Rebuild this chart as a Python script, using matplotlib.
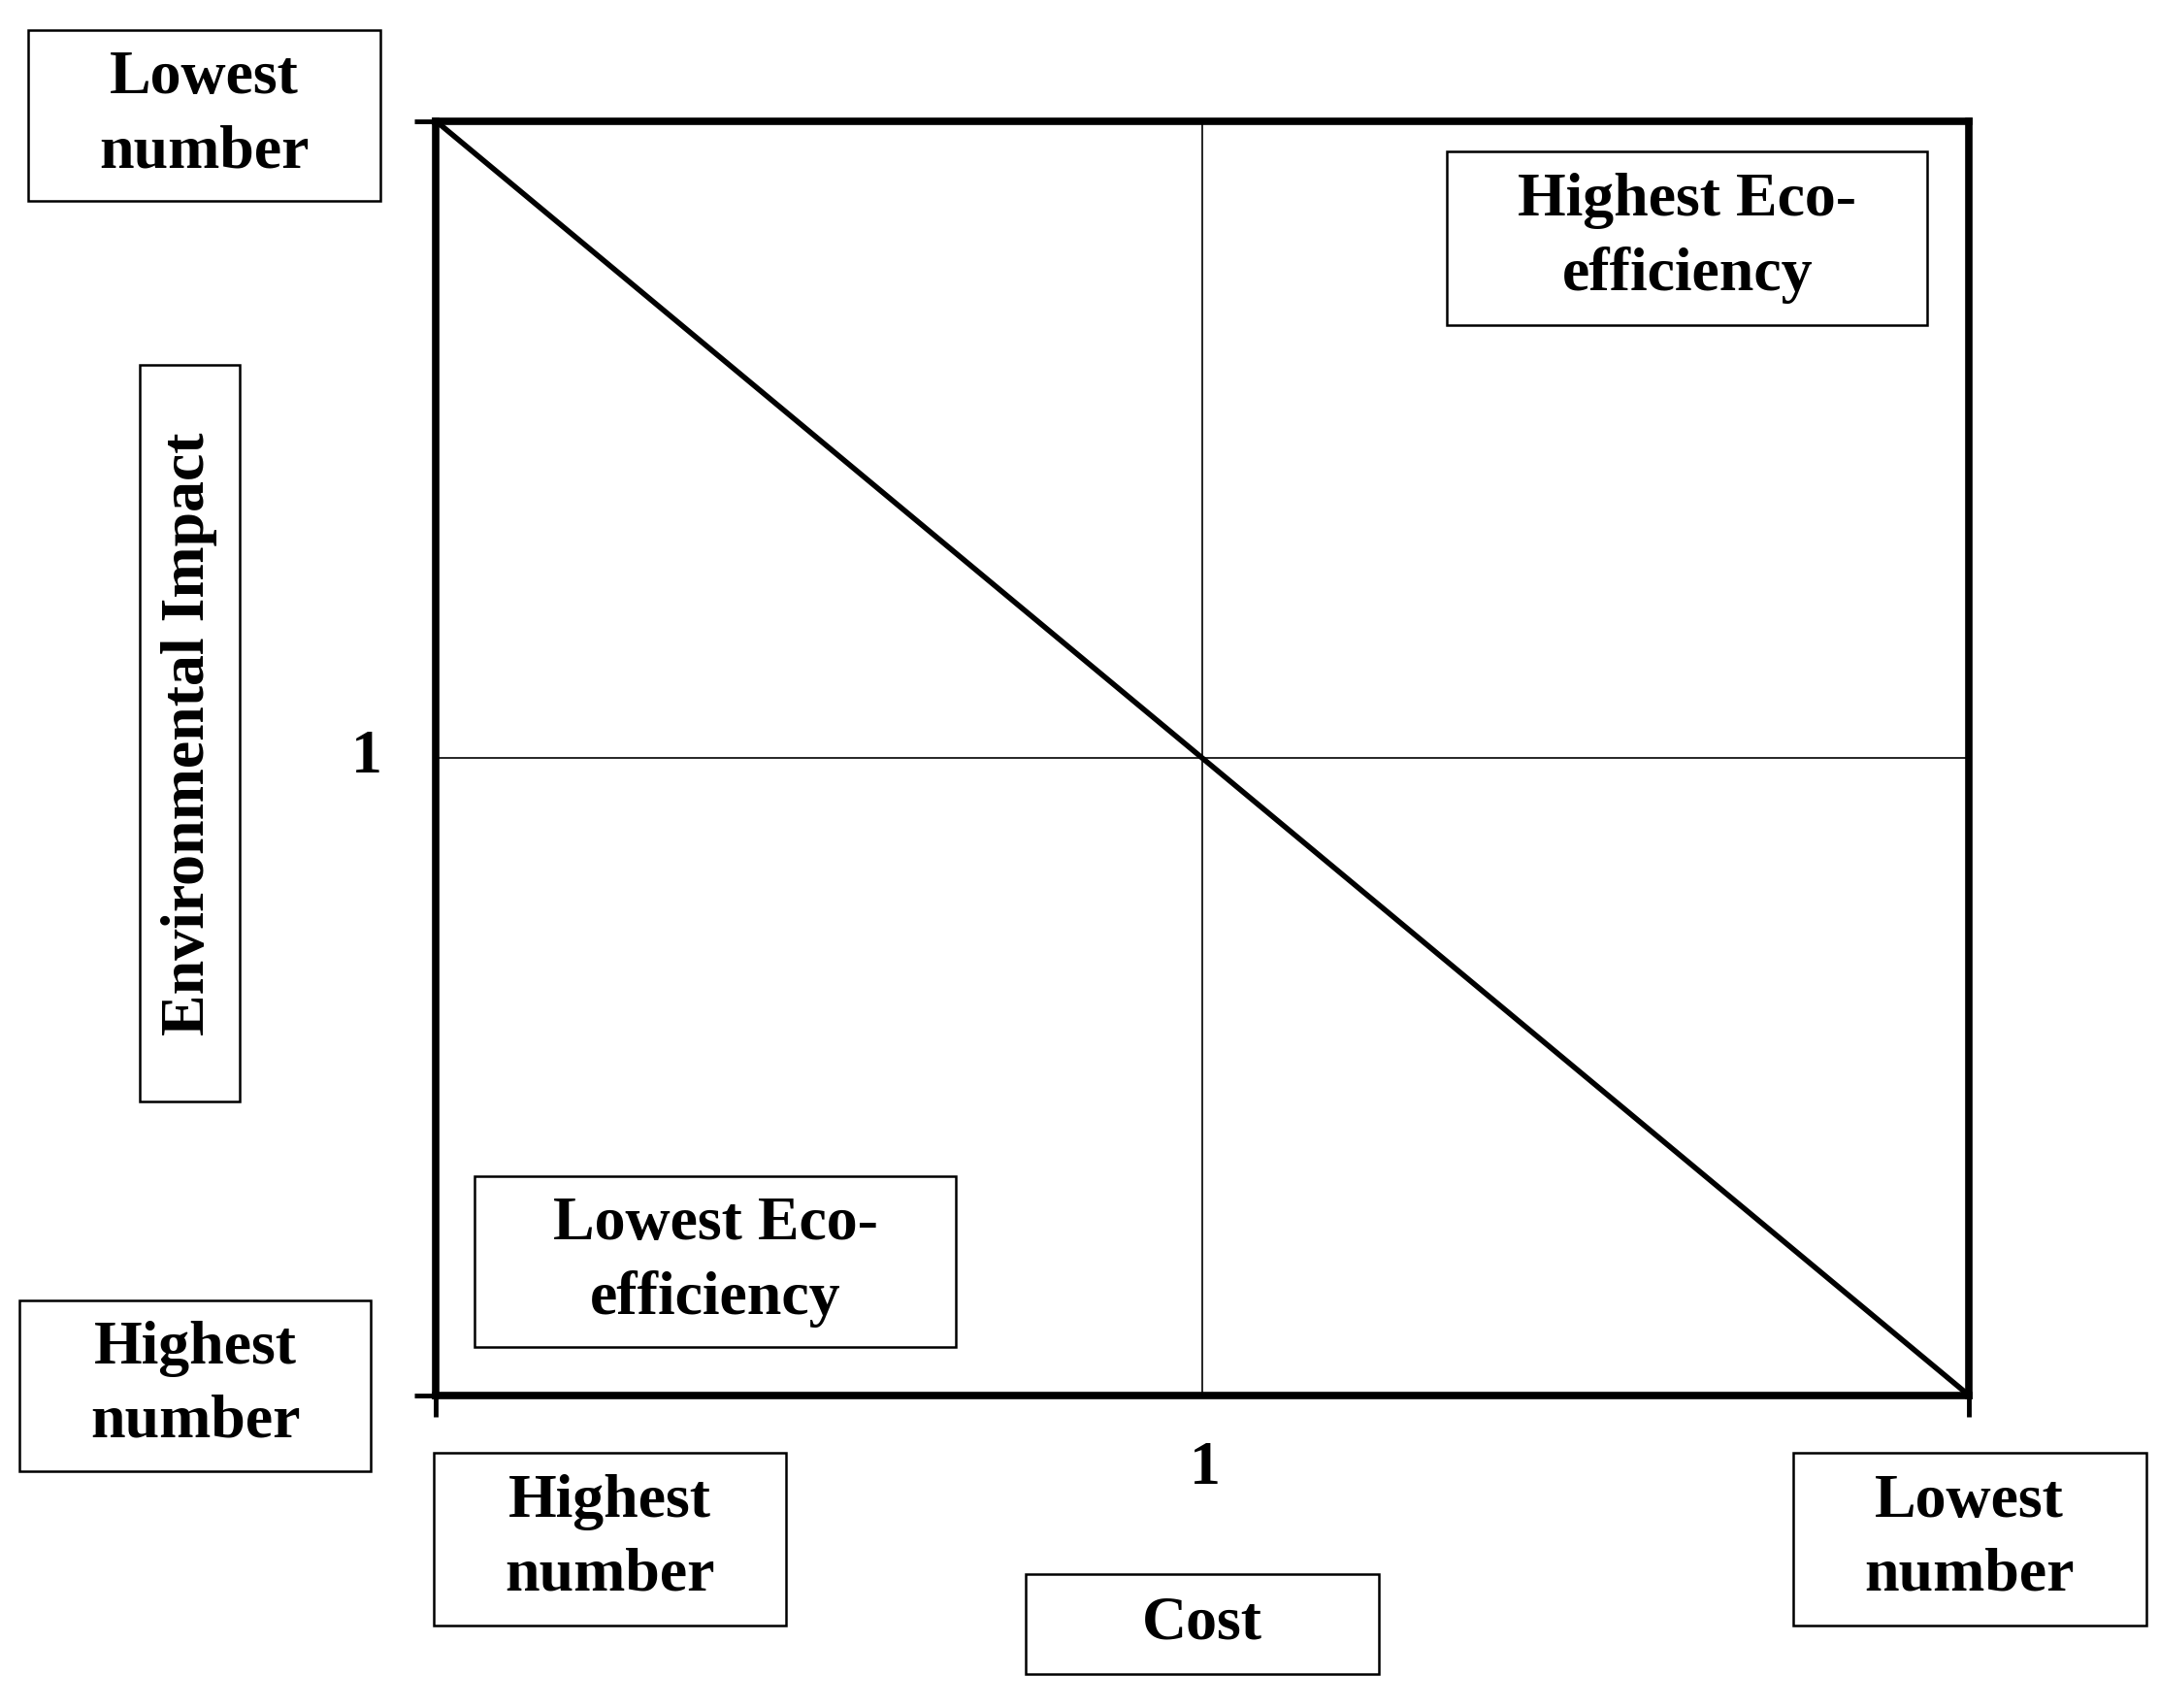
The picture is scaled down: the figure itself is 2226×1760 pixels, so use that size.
import matplotlib
matplotlib.use("Agg")
import matplotlib.pyplot as plt
from matplotlib.patches import Rectangle

plt.rcParams['font.family'] = ['Liberation Serif', 'DejaVu Serif']

# data
axis_min, axis_mid, axis_max = 0, 1, 2
diag_x = [0, 2]
diag_y = [2, 0]
mid_label = "1"
x_axis_title = "Cost"
y_axis_title = "Environmental Impact"
labels = {
    "y_top": "Lowest\nnumber",
    "y_bottom": "Highest\nnumber",
    "x_left": "Highest\nnumber",
    "x_right": "Lowest\nnumber",
    "q_high": "Highest Eco-\nefficiency",
    "q_low": "Lowest Eco-\nefficiency",
}

W, H = 1560, 1240
fig = plt.figure(figsize=(22.26, 17.6), dpi=100)

def fx(x): return x / W
def fy(y): return 1 - y / H

ax = fig.add_axes([fx(315), fy(1013), fx(1422) - fx(315), fy(88) - fy(1013)])
ax.set_xlim(axis_min, axis_max)
ax.set_ylim(axis_min, axis_max)
ax.plot(diag_x, diag_y, color='black', lw=4, solid_capstyle='butt')
ax.axvline(axis_mid, color='black', lw=1.2)
ax.axhline(axis_mid, color='black', lw=1.2)
for s in ax.spines.values():
    s.set_linewidth(5.5)
ax.set_xticks([axis_min, axis_max])
ax.set_yticks([axis_min, axis_max])
ax.set_xticklabels([])
ax.set_yticklabels([])
ax.tick_params(length=16, width=3.5, direction='out')

fs = 46

def box(x0, y0, x1, y1, text, rot=0):
    r = Rectangle((fx(x0), fy(y1)), fx(x1) - fx(x0), fy(y0) - fy(y1),
                  transform=fig.transFigure, fill=False, lw=1.8, ec='black')
    fig.add_artist(r)
    fig.text(fx((x0 + x1) / 2), fy((y0 + y1) / 2), text, ha='center', va='center',
             fontsize=fs, fontweight='bold', rotation=rot, linespacing=1.4)

box(20, 22, 275, 146, labels["y_top"])
box(101, 265, 173, 800, y_axis_title, rot=90)
box(14, 944, 268, 1068, labels["y_bottom"])
box(313, 1055, 568, 1180, labels["x_left"])
box(741, 1143, 996, 1215, x_axis_title)
box(1295, 1055, 1550, 1180, labels["x_right"])
box(1045, 110, 1392, 236, labels["q_high"])
box(343, 854, 690, 978, labels["q_low"])

fig.text(fx(265), fy(550), mid_label, ha='center', va='center', fontsize=fs, fontweight='bold')
fig.text(fx(870), fy(1067), mid_label, ha='center', va='center', fontsize=fs, fontweight='bold')

fig.savefig("out.png", dpi=100, facecolor='white')
